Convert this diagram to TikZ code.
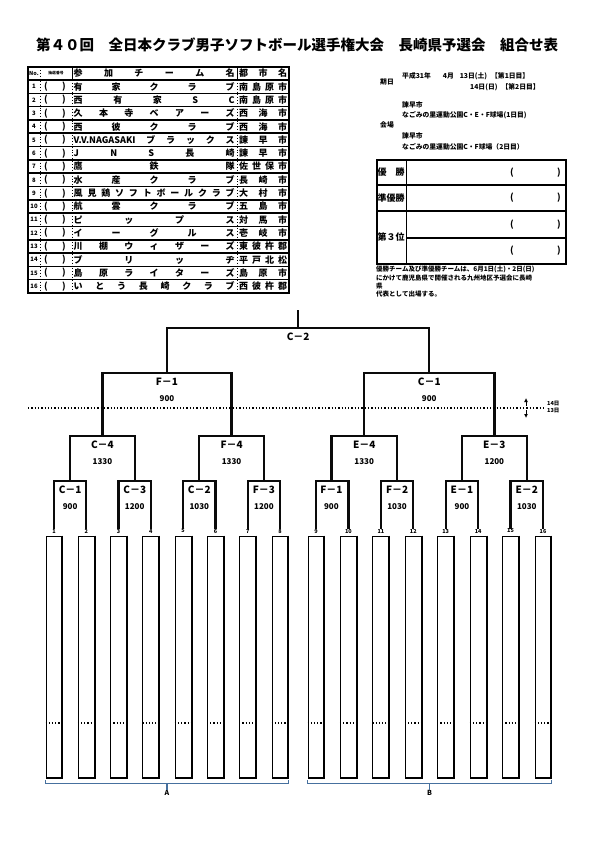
\documentclass[tikz,border=0pt]{standalone}
\usepackage{fontspec}
\setmainfont{Noto Sans CJK JP}
\usetikzlibrary{calc,positioning,arrows.meta}
\definecolor{inkblack}{RGB}{10,10,10}
\definecolor{braceblue}{RGB}{70,112,158}

% spread a list of characters evenly over a given width
\newcommand\spreadtxt[2]{\edef\sprlist{#2}\makebox[#1][s]{\foreach \ch [count=\kk] in \sprlist {\ifnum\kk>1 \hfill\fi\ch}}}

\begin{document}
\begin{tikzpicture}[x=1pt, y=-1pt, every node/.style={font=\bfseries, inner sep=0pt},
    bline/.style={line width=2.3pt, color=inkblack},
    tline/.style={line width=1.6pt},
    rline/.style={line width=1.5pt},
    dline/.style={dotted, line width=0.9pt},
    teambox/.style={draw, line width=0.9pt, minimum width=16pt, minimum height=242pt},
    numlbl/.style={font=\bfseries\fontsize{5.5}{6}\selectfont},
    mlbl/.style={font=\bfseries\fontsize{10}{10}\selectfont},
    mtime/.style={font=\bfseries\fontsize{8}{8}\selectfont},
    tbl/.style={font=\bfseries\fontsize{9}{9}\selectfont},
    info/.style={font=\bfseries\fontsize{6.8}{7}\selectfont, anchor=west},
    brace/.style={line width=1.8pt, color=braceblue}]
  \useasboundingbox[fill=white] (0,0) rectangle (595,842);

  % title
  \node[font=\bfseries\fontsize{14.5}{15}\selectfont] (title) at (297,45) {第４０回　全日本クラブ男子ソフトボール選手権大会　長崎県予選会　組合せ表};

  % ---- entry table ----
  \draw[tline] (28,67) rectangle (289,293);
  \foreach \i in {0,...,15} \draw[rline] (28,{80+13.3125*\i}) -- (289,{80+13.3125*\i});
  \draw[dline] (40,67) -- (40,293);
  \draw[line width=0.8pt] (72,67) -- (72,80);
  \draw[dline] (72,80) -- (72,293);
  \draw[line width=0.8pt] (237,67) -- (237,80);
  \draw[dline] (237,80) -- (237,293);
  \node[font=\bfseries\fontsize{5.5}{6}\selectfont] (hno) at (34,73.5) {No.};
  \node[font=\bfseries\fontsize{3.8}{4}\selectfont] (hlot) at (56,73.5) {抽選番号};
  \node[tbl, anchor=west] (hteam) at (73.5,73.5) {\spreadtxt{161pt}{参,加,チ,ー,ム,名}};
  \node[tbl, anchor=west] (hcity) at (239,73.5) {\spreadtxt{48pt}{都,市,名}};
  \foreach \nm/\city [count=\i] in {
      {有,家,ク,ラ,ブ}/{南,島,原,市},
      {西,有,家,S,C}/{南,島,原,市},
      {久,本,寺,ベ,ア,ー,ズ}/{西,海,市},
      {西,彼,ク,ラ,ブ}/{西,海,市},
      {V.V.NAGASAKI,ブ,ラ,ッ,ク,ス}/{諫,早,市},
      {J,N,S,長,崎}/{諫,早,市},
      {鷹,鉄,隊}/{佐,世,保,市},
      {水,産,ク,ラ,ブ}/{長,崎,市},
      {風,見,鶏,ソ,フ,ト,ボ,ー,ル,ク,ラ,ブ}/{大,村,市},
      {航,雲,ク,ラ,ブ}/{五,島,市},
      {ピ,ッ,プ,ス}/{対,馬,市},
      {イ,ー,グ,ル,ス}/{壱,岐,市},
      {川,棚,ウ,ィ,ザ,ー,ズ}/{東,彼,杵,郡},
      {ブ,リ,ッ,ヂ}/{平,戸,北,松},
      {島,原,ラ,イ,タ,ー,ズ}/{島,原,市},
      {い,と,う,長,崎,ク,ラ,ブ}/{西,彼,杵,郡}}{
    \pgfmathsetmacro\ry{80+13.3125*(\i-0.5)}
    \node[font=\bfseries\fontsize{6}{6}\selectfont] (no\i) at (34,\ry) {\i};
    \node[tbl] (lo\i) at (46,\ry) {(};
    \node[tbl] (lc\i) at (64,\ry) {)};
    \node[tbl, anchor=west] (team\i) at (73.5,\ry) {\spreadtxt{161pt}{\nm}};
    \node[tbl, anchor=west] (city\i) at (239,\ry) {\spreadtxt{48pt}{\city}};
  }

  % ---- date and venue ----
  \node[info] (kijitsu) at (380,82) {期日};
  \node[info] (date1) at (402,76) {平成31年\hspace{12pt}4月\hspace{6pt}13日(土)\hspace{4pt}【第1日目】};
  \node[info] (date2) at (470,87) {14日(日)\hspace{4pt}【第2日目】};
  \node[info] (kaijo) at (380,125) {会場};
  \node[info] (venue1a) at (402,105) {諫早市};
  \node[info] (venue1b) at (402,115) {なごみの里運動公園C・E・F球場(1日目)};
  \node[info] (venue2a) at (402,136) {諫早市};
  \node[info] (venue2b) at (402,147) {なごみの里運動公園C・F球場（2日目）};

  % ---- result table ----
  \draw[tline] (377,160) rectangle (566,264);
  \draw[tline] (377,185) -- (566,185);
  \draw[tline] (377,211) -- (566,211);
  \draw[rline] (406,238) -- (566,238);
  \draw[line width=1pt] (406,160) -- (406,264);
  \node[tbl] (win) at (391,172.5) {優　勝};
  \node[tbl] (second) at (391,198) {準優勝};
  \node[tbl] (third) at (391,237.5) {第３位};
  \foreach \ry [count=\i] in {172.5,198,224.5,251}{
    \node[tbl] (po\i) at (512,\ry) {(};
    \node[tbl] (pc\i) at (559,\ry) {)};
  }
  \node[info, anchor=north west, align=left, font=\bfseries\fontsize{6.5}{8.3}\selectfont] (note) at (376,266) {優勝チーム及び準優勝チームは、6月1日(土)・2日(日)\\にかけて鹿児島県で開催される九州地区予選会に長崎\\県\\代表として出場する。};

  % ---- bracket ----
  \coordinate (yDot) at (0,723);
  \coordinate (yR1) at (0,481);
  \coordinate (yR2) at (0,436);
  \coordinate (yR3) at (0,373);
  \coordinate (yR4) at (0,328);
  \coordinate (yTop) at (0,310);

  \foreach \i in {1,...,16}{
    \pgfmathsetmacro\tx{\i<9 ? 54+(\i-1)*32.29 : 316+(\i-9)*32.43}
    \node[teambox] (t\i) at (\tx,657) {};
    \draw[line width=2pt] (t\i.north east) -- (t\i.south east) -- (t\i.south west);
    \draw[dotted, line width=1.2pt] (t\i.west |- yDot) -- (t\i.east |- yDot);
    \node[numlbl] (n\i) at (\tx,531) {\i};
  }

  % first round
  \foreach \a/\b/\lab/\tm [count=\k] in {1/2/C－1/900, 3/4/C－3/1200, 5/6/C－2/1030, 7/8/F－3/1200,
      9/10/F－1/900, 11/12/F－2/1030, 13/14/E－1/900, 15/16/E－2/1030}{
    \path (n\a) -- (n\b) coordinate[pos=0.5] (ma\k);
    \coordinate (ra\k) at (ma\k |- yR1);
    \draw[bline] (n\a.north) |- (ra\k) -| (n\b.north);
    \node[mlbl, below=4.5pt of ra\k] (la\k) {\lab};
    \node[mtime, below=10pt of la\k] (ta\k) {\tm};
  }
  % second round
  \foreach \a/\b/\lab/\tm [count=\k] in {1/2/C－4/1330, 3/4/F－4/1330, 5/6/E－4/1330, 7/8/E－3/1200}{
    \path (ra\a) -- (ra\b) coordinate[pos=0.5] (mb\k);
    \coordinate (rb\k) at (mb\k |- yR2);
    \draw[bline] (ra\a) |- (rb\k) -| (ra\b);
    \node[mlbl, below=4.5pt of rb\k] (lb\k) {\lab};
    \node[mtime, below=10pt of lb\k] (tb\k) {\tm};
  }
  % semi final
  \foreach \a/\b/\lab/\tm [count=\k] in {1/2/F－1/900, 3/4/C－1/900}{
    \path (rb\a) -- (rb\b) coordinate[pos=0.5] (mc\k);
    \coordinate (rc\k) at (mc\k |- yR3);
    \draw[bline] (rb\a) |- (rc\k) -| (rb\b);
    \node[mlbl, below=4.5pt of rc\k] (lc\k) {\lab};
    \node[mtime, below=10pt of lc\k] (tc\k) {\tm};
  }
  % final
  \path (rc1) -- (rc2) coordinate[pos=0.5] (md);
  \coordinate (rd) at (md |- yR4);
  \coordinate (rtop) at (md |- yTop);
  \draw[bline] (rc1) |- (rd) -| (rc2);
  \draw[bline] (rd) -- (rtop);
  \node[mlbl, below=4.5pt of rd] (ld) {C－2};

  % day change line
  \coordinate (dayL) at (28,408);
  \coordinate (dayR) at (544,408);
  \draw[dotted, line width=1.3pt] (dayL) -- (dayR);
  \node[font=\bfseries\fontsize{5.5}{6}\selectfont, anchor=west] (day14) at (547,403.5) {14日};
  \node[font=\bfseries\fontsize{5.5}{6}\selectfont, anchor=west] (day13) at (547,410.5) {13日};
  \coordinate (arU) at (526,398);
  \coordinate (arD) at (526,418);
  \draw[-{Latex[length=4pt,width=4pt]}, line width=0.9pt] (526,406) -- (arU);
  \draw[-{Latex[length=4pt,width=4pt]}, line width=0.9pt] (526,410) -- (arD);

  % groups
  \draw[brace] ([yshift=-2pt]t1.south west) -- ++(0,3) -| ([yshift=-2pt]t8.south east);
  \path (t1.south west) -- (t8.south east) coordinate[pos=0.5] (midA);
  \node[font=\bfseries\fontsize{7}{7}\selectfont] (grpA) at ([yshift=-14pt]midA) {A};
  \draw[brace] ([yshift=-5pt]midA) -- (grpA.north);
  \draw[brace] ([yshift=-2pt]t9.south west) -- ++(0,3) -| ([yshift=-2pt]t16.south east);
  \path (t9.south west) -- (t16.south east) coordinate[pos=0.5] (midB);
  \node[font=\bfseries\fontsize{7}{7}\selectfont] (grpB) at ([yshift=-14pt]midB) {B};
  \draw[brace] ([yshift=-5pt]midB) -- (grpB.north);
\end{tikzpicture}
\end{document}
